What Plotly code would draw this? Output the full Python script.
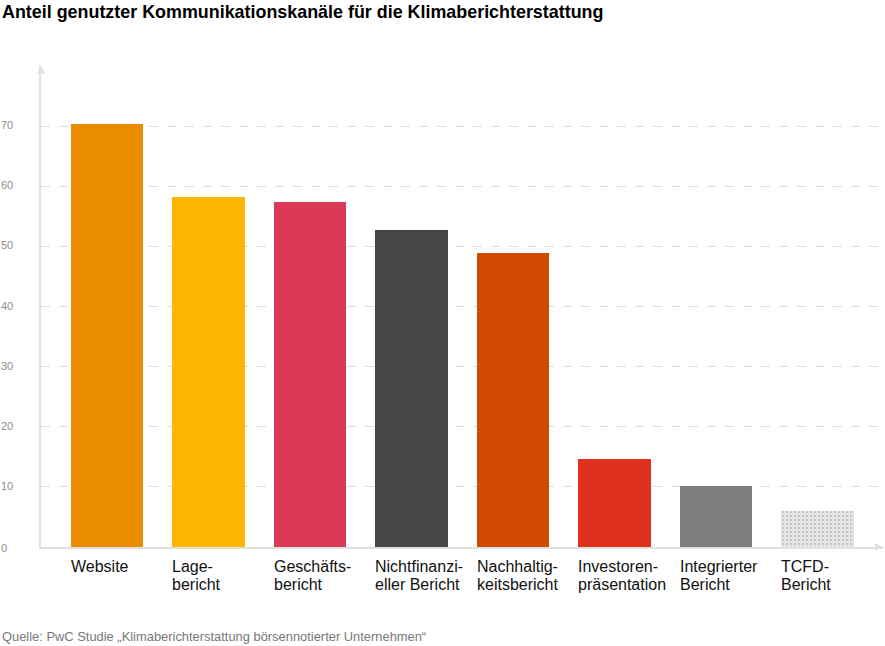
import plotly.graph_objects as go

title = "Anteil genutzter Kommunikationskanäle für die Klimaberichterstattung"
source = "Quelle: PwC Studie „Klimaberichterstattung börsennotierter Unternehmen“"
label_line1 = ["Website", "Lage-", "Geschäfts-", "Nichtfinanzi-", "Nachhaltig-", "Investoren-", "Integrierter", "TCFD-"]
label_line2 = ["", "bericht", "bericht", "eller Bericht", "keitsbericht", "präsentation", "Bericht", "Bericht"]
values = [70.3, 58.2, 57.4, 52.7, 48.9, 14.6, 10.1, 6.0]
colors = ["#EB8C00", "#FFB600", "#DB3A56", "#464646", "#D04A02", "#E0301E", "#7D7D7D", "#E4E4E4"]
y_ticks = [0, 10, 20, 30, 40, 50, 60, 70]

W, H = 885, 646
ml, mr, mt, mb = 41, 2, 66, 99
pw, ph = W - ml - mr, H - mt - mb
bar_w = 0.714
x = list(range(len(values)))

patterns = [""] * (len(values) - 1) + ["."]
fig = go.Figure(go.Bar(
    x=x, y=values, width=bar_w,
    marker=dict(color=colors, line=dict(width=0),
                pattern=dict(shape=patterns, fgcolor="#d9d9d9", size=4, solidity=0.1)),
    hoverinfo="skip",
))

font = "Liberation Sans, Arial, Helvetica, sans-serif"
ann = []
for i, (a, b) in enumerate(zip(label_line1, label_line2)):
    for j, t in enumerate([a, b]):
        if t:
            ann.append(dict(x=i - bar_w / 2, y=0, xref="x", yref="y", text=t, showarrow=False,
                            xanchor="left", yanchor="middle", yshift=-19 - 18 * j, xshift=-2,
                            font=dict(size=16, color="#111", family=font)))
for v in y_ticks:
    ann.append(dict(x=-ml / pw, y=v, xref="paper", yref="y", text=str(v), showarrow=False,
                    xanchor="left", yanchor="middle", xshift=-1, yshift=1 if v else -1,
                    font=dict(size=11, color="#8c8c8c", family=font)))
ann.append(dict(x=-ml / pw, y=1 + (mt - 12) / ph, xref="paper", yref="paper", text="<b>" + title + "</b>",
                showarrow=False, xanchor="left", yanchor="middle", xshift=0,
                font=dict(size=17.9, color="#000", family=font)))
ann.append(dict(x=-ml / pw, y=-(636 - (H - mb)) / ph, xref="paper", yref="paper", text=source,
                showarrow=False, xanchor="left", yanchor="middle", xshift=0,
                font=dict(size=12.9, color="#777", family=font)))

axc = "#e0e0e0"
shapes = [
    dict(type="path", xref="paper", yref="paper",
         path=f"M {-4/pw} {1-8/ph} L {4/pw} {1-8/ph} L 0 {1+1/ph} Z",
         fillcolor=axc, line=dict(width=0)),
    dict(type="path", xref="paper", yref="paper",
         path=f"M {1-8/pw} {-4/ph} L {1-8/pw} {4/ph} L 1 0 Z",
         fillcolor=axc, line=dict(width=0)),
]

fig.update_layout(
    width=W, height=H, margin=dict(l=ml, r=mr, t=mt, b=mb),
    paper_bgcolor="white", plot_bgcolor="white", showlegend=False,
    annotations=ann, shapes=shapes, bargap=0,
    xaxis=dict(range=[-0.65, 7.645], showticklabels=False, showgrid=False, zeroline=False,
               showline=True, linecolor=axc, linewidth=1.5, ticks="", fixedrange=True),
    yaxis=dict(range=[0, 80], tickvals=y_ticks, showticklabels=False, showgrid=True,
               gridcolor="#dcdcdc", griddash="dash", gridwidth=1, zeroline=False,
               showline=True, linecolor=axc, linewidth=1.5, ticks="", fixedrange=True),
)
fig.write_html("out.html", config={"displayModeBar": False},
               post_script="document.body.style.margin='0';document.body.style.overflow='hidden';")
